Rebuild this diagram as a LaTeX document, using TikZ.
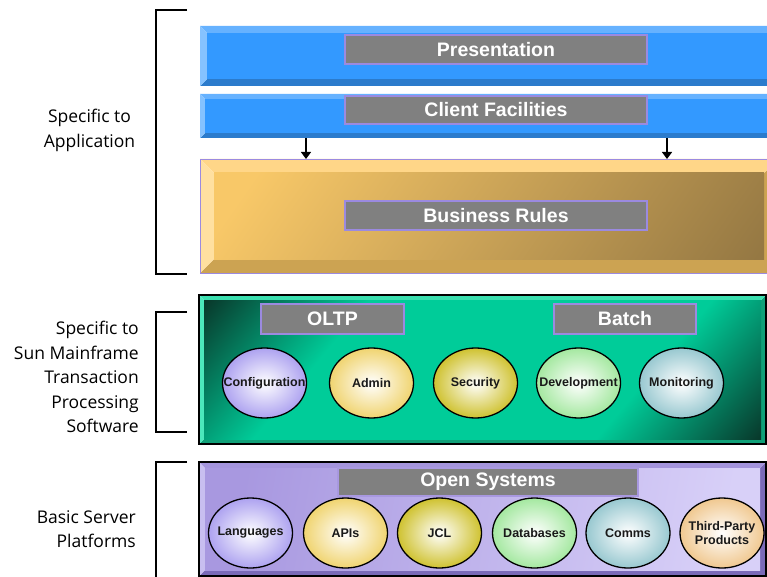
\documentclass[tikz,border=0pt]{standalone}
\usepackage{fontspec}
\setmainfont{Liberation Sans}
\newfontfamily\sidefont{Open Sans}
\usetikzlibrary{shapes.geometric,% ellipses for the modules
arrows.meta}

\definecolor{bluemain}{HTML}{3399FF}
\definecolor{bluetop}{HTML}{66B2FF}
\definecolor{blueleft}{HTML}{85C2FF}
\definecolor{bluebottom}{HTML}{2B7BCC}
\definecolor{goldlight}{HTML}{F8C868}
\definecolor{golddark}{HTML}{957843}
\definecolor{goldtop}{HTML}{FFD688}
\definecolor{goldleft}{HTML}{FFE0A0}
\definecolor{goldbottom}{HTML}{CCA352}
\definecolor{greenmain}{HTML}{00CC99}
\definecolor{greendark}{HTML}{083A2C}
\definecolor{greentop}{HTML}{3CE0B0}
\definecolor{greenleft}{HTML}{4CE8BC}
\definecolor{greenbottom}{HTML}{10A078}
\definecolor{lavleft}{HTML}{A898E0}
\definecolor{lavright}{HTML}{D8D0F8}
\definecolor{lavtop}{HTML}{A494DC}
\definecolor{lavside}{HTML}{C8BEF0}
\definecolor{lavbottom}{HTML}{7A6AB8}
\definecolor{titlegray}{HTML}{808080}
\definecolor{boxedge}{HTML}{9B8AE0}
\definecolor{modlav}{HTML}{ADA2F0}
\definecolor{modyellow}{HTML}{F0D470}
\definecolor{modolive}{HTML}{CFC230}
\definecolor{modgreen}{HTML}{A4E8A0}
\definecolor{modteal}{HTML}{98C8D0}
\definecolor{modpeach}{HTML}{F0C890}

\pgfdeclarehorizontalshading{goldface}{100bp}{color(0bp)=(goldlight); color(20bp)=(goldlight); color(84bp)=(golddark); color(100bp)=(golddark)}
\pgfdeclarehorizontalshading{greenface}{100bp}{color(0bp)=(greendark); color(15bp)=(greendark); color(32bp)=(greenmain); color(68bp)=(greenmain); color(85bp)=(greendark); color(100bp)=(greendark)}
\pgfdeclarehorizontalshading{lavface}{100bp}{color(0bp)=(lavleft); color(25bp)=(lavleft); color(75bp)=(lavright); color(100bp)=(lavright)}

\tikzset{side label/.style={font=\sidefont\fontsize{17.5}{24.5}\selectfont, inner sep=0pt},
  title box/.style={draw=boxedge, line width=1.2pt, fill=titlegray, text=white,
    font=\bfseries\fontsize{19.5}{22}\selectfont, inner sep=0pt},
  module/.style={ellipse, draw=black, line width=1.3pt, inner sep=0pt,
    minimum width=84pt, minimum height=70pt, inner color=white,
    text=black!90, font=\bfseries\fontsize{12.5}{13.3}\selectfont},
  bracket/.style={line width=1.8pt},
  layer arrow/.style={-{Triangle[length=7pt,width=10pt]}, line width=1.3pt}}

% #1,#2 top left; #3,#4 bottom right; #5 bevel; #6 face; #7 top; #8 left; #9 bottom
\newcommand{\bevelbox}[9]{%
  \fill[#9] (#1,#4) -- (#3,#4) -- (#3,#2) -- (#3-#5,#2+#5) -- (#3-#5,#4-#5) -- (#1+#5,#4-#5) -- cycle;
  \fill[#7] (#1,#2) -- (#3,#2) -- (#3-#5,#2+#5) -- (#1+#5,#2+#5) -- cycle;
  \fill[#8] (#1,#2) -- (#1+#5,#2+#5) -- (#1+#5,#4-#5) -- (#1,#4) -- cycle;
  \fill[#6] (#1+#5,#2+#5) rectangle (#3-#5,#4-#5);}

\begin{document}
\begin{tikzpicture}[x=1pt,y=-1pt]
  \useasboundingbox (0,0) rectangle (767,577);
  \clip (0,0) rectangle (767,577);
  % application layers
  \bevelbox{200}{26}{790}{86}{7}{bluemain}{bluetop}{blueleft}{bluebottom}
  \bevelbox{200}{94}{790}{138}{5}{bluemain}{bluetop}{blueleft}{bluebottom}
  \bevelbox{200}{159}{778}{273}{14}{shade,shading=goldface,shading angle=-35}{goldtop}{goldleft}{goldbottom}
  \draw[boxedge,line width=0.8pt] (200,159) rectangle (778,273);
  % transaction processing layer
  \bevelbox{199}{295}{766}{444}{5}{shade,shading=greenface,shading angle=-40}{greentop}{greenleft}{greenbottom}
  \draw[line width=1.2pt] (199,295) rectangle (766,444);
  % server platform layer
  \bevelbox{199}{462}{766}{576}{6}{shade,shading=lavface,shading angle=-10}{lavtop}{lavside}{lavbottom}
  \draw[line width=1.2pt] (199,462) rectangle (766,576);

  \node[title box, minimum width=302pt, minimum height=29pt] (pres) at (496,49.5) {Presentation};
  \node[title box, minimum width=302pt, minimum height=28pt] (client) at (496,110) {Client Facilities};
  \node[title box, minimum width=302pt, minimum height=29pt] (rules) at (496,215.5) {Business Rules};
  \node[title box, minimum width=143pt, minimum height=30pt] (oltp) at (332.5,319) {OLTP};
  \node[title box, minimum width=142pt, minimum height=30pt] (batch) at (625,319) {Batch};
  \node[title box, draw=lavleft, minimum width=300pt, minimum height=28pt] (opensys) at (488,482) {Open Systems};

  \foreach \x/\n in {306/l,667/r}
  { \coordinate (from\n) at (\x,138);
    \coordinate (to\n) at (\x,159);
    \draw[layer arrow] (from\n) -- (to\n); }

  \foreach \n/\x/\c/\t in {conf/264.5/modlav/Configuration, admin/371.5/modyellow/Admin,
    sec/475.5/modolive/Security, dev/578.5/modgreen/Development, mon/681.5/modteal/Monitoring}
    \node[module, outer color=\c] (\n) at (\x,383) {\makebox[0pt]{\t}};
  \foreach \n/\x/\c/\t in {lang/250.5/modlav/Languages, apis/345.5/modyellow/APIs,
    jcl/439.5/modolive/JCL, db/534.5/modgreen/Databases, comms/628/modteal/Comms,
    third/722/modpeach/{\shortstack{Third-Party\\Products}}}
    \node[module, outer color=\c] (\n) at (\x,533) {\makebox[0pt]{\t}};

  % brackets and their labels
  \draw[bracket] (187,10) -- (156,10) -- (156,274) -- (187,274);
  \draw[bracket] (187,312) -- (156,312) -- (156,432) -- (187,432);
  \draw[bracket] (187,462) -- (156,462) -- (156,590);
  \node[side label, align=center] (app) at (89.5,130.5) {Specific to\\Application};
  \node[side label, align=right, anchor=east] (tp) at (139,377)
    {Specific to\\Sun Mainframe\\Transaction\\Processing\\Software};
  \node[side label, align=right, anchor=east] (basic) at (136,529) {Basic Server\\Platforms};
\end{tikzpicture}
\end{document}
